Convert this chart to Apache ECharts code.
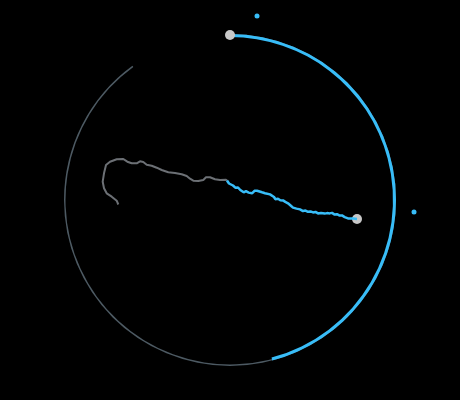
<!DOCTYPE html>
<html style="height: 100%">
<head>
  <meta charset="utf-8">
  <title>Route progress</title>
  <style type="text/css">
    body { margin: 0; background: #000; }
  </style>
</head>
<body style="height: 100%; margin: 0;">
  <div id="container" style="width: 460px; height: 400px"></div>

  <script type="text/javascript" src="https://cdn.jsdelivr.net/npm/echarts@6/dist/echarts.min.js"></script>
  <script type="text/javascript">
    // route already covered (gray) and the part highlighted in blue
    var routeGray = [
      [118.3, 204.5], [116.7, 200.7], [111.7, 196.7], [106.7, 193.3], [104, 188.3],
      [102.7, 181.7], [104, 173.3], [106, 165], [110, 161.7], [116.7, 159.3],
      [123.3, 159], [127.3, 161.7], [131.7, 163.3], [136.7, 163.3], [140, 161.3],
      [143.3, 162], [146.7, 164.7], [151.7, 165.7], [156.7, 167.7], [161.7, 170],
      [168.3, 172.3], [175, 173], [181.7, 174.3], [186.7, 176], [190, 178.7],
      [193.3, 180.7], [198.3, 181], [203.3, 180], [206, 177.3], [210, 177.3],
      [215, 179.3], [220, 180], [226, 179.7], [227, 180.5]
    ];
    var routeBlue = [
      [227, 180.5], [229, 183.5], [230.3, 185], [233, 185.5], [235.3, 187.7], [238, 187.5],
      [240.3, 190], [243.7, 192.3], [246, 191.2], [248.7, 192.6], [252, 193.3], [254.5, 190.8],
      [257, 190.7], [259, 192.2], [262, 192.3], [265, 193.2], [267, 194], [270, 194.4],
      [272, 195.9], [274, 197], [275.3, 199.2], [278, 198.8], [280.3, 200.2], [283, 200.4],
      [285.3, 201.9], [288, 203.3], [290.3, 205.2], [293, 207.6], [295, 205.9],
      [296.5, 208.6], [298, 210], [300, 209.4], [303, 211.1], [305.5, 210.6], [308, 211.8],
      [310.5, 211.4], [313, 212.4], [315.5, 211.9], [318, 213.4], [321, 212.9], [324.7, 213.6],
      [327, 213.1], [329.7, 213.4], [332, 212.9], [334.7, 214.6], [337, 214.2], [339.7, 215.6],
      [342, 215.4], [344.7, 217.1], [348, 218.4], [350, 217.4], [353, 218.6], [357, 219]
    ];
    var markers = [[230, 35], [357, 219]];
    var beacons = [[257, 16], [414, 212]];
    var progress = 51;

    var dom = document.getElementById("container");
    var chart = echarts.init(dom);

    chart.setOption({
      backgroundColor: '#000000',
      animation: false,
      grid: { left: 0, right: 0, top: 0, bottom: 0 },
      xAxis: { type: 'value', min: 0, max: 460, show: false },
      yAxis: { type: 'value', min: 0, max: 400, inverse: true, show: false },
      series: [
        {
          type: 'gauge',
          center: ['50%', '50%'],
          radius: 166,
          startAngle: 90,
          endAngle: -234,
          min: 0,
          max: 100,
          axisLine: { lineStyle: { width: 1.5, color: [[1, '#4d5a63']] } },
          progress: { show: true, width: 3, itemStyle: { color: '#38bdf8' } },
          splitLine: { show: false },
          axisTick: { show: false },
          axisLabel: { show: false },
          pointer: { show: false },
          anchor: { show: false },
          title: { show: false },
          detail: { show: false },
          data: [{ value: progress }]
        },
        {
          type: 'line',
          data: routeGray,
          symbol: 'none',
          lineStyle: { color: '#6c7075', width: 2 }
        },
        {
          type: 'line',
          data: routeBlue,
          symbol: 'none',
          lineStyle: { color: '#38bdf8', width: 2.5 }
        },
        {
          type: 'scatter',
          data: beacons,
          symbolSize: 5,
          itemStyle: { color: '#38bdf8', opacity: 1 }
        },
        {
          type: 'scatter',
          data: markers,
          symbolSize: 10,
          itemStyle: { color: '#c8c8c8', opacity: 1 }
        }
      ]
    });
  </script>
</body>
</html>
